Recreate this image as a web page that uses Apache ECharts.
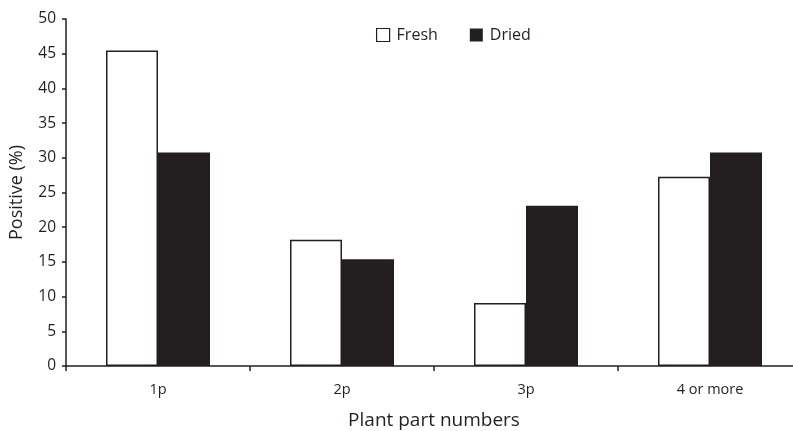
<!DOCTYPE html>
<html><head><meta charset="utf-8">
<script src="https://cdn.jsdelivr.net/npm/echarts@6/dist/echarts.min.js"></script>
<style>html,body{margin:0;padding:0;background:#fff}#c{width:793px;height:431px}</style>
</head><body><div id="c"></div>
<script>
const categories = ['1p', '2p', '3p', '4 or more'];
const fresh = [45.45, 18.18, 9.09, 27.27];
const dried = [30.77, 15.38, 23.08, 30.77];
const yTicks = [0, 5, 10, 15, 20, 25, 30, 35, 40, 45, 50];
const ink = '#231f20';
const font = 'Open Sans';
const chart = echarts.init(document.getElementById('c'));
chart.setOption({
  animation: false,
  textStyle: { fontFamily: font, color: ink },
  legend: {
    top: 22, left: 371, itemGap: 32, itemWidth: 13, itemHeight: 13, icon: 'rect',
    textStyle: { fontSize: 16, color: ink, fontFamily: font, padding: [0, 0, 0, 2] },
    data: [
      { name: 'Fresh', itemStyle: { color: '#fff', borderColor: ink, borderWidth: 1.2 } },
      { name: 'Dried', itemStyle: { color: ink } }
    ]
  },
  grid: { left: 66, right: -9, top: 19, bottom: 65, containLabel: false, outerBoundsMode: 'none' },
  xAxis: {
    type: 'category', data: categories,
    axisLine: { lineStyle: { color: ink, width: 1.5 } },
    axisTick: { show: true, length: 5, lineStyle: { color: ink, width: 1.5 } },
    axisLabel: { fontSize: 14.5, color: ink, margin: 16, fontFamily: font },
    name: 'Plant part numbers', nameLocation: 'middle', nameGap: 45,
    nameTextStyle: { fontSize: 19, color: ink, fontFamily: font }
  },
  yAxis: {
    type: 'value', min: 0, max: 50, interval: 5,
    axisLine: { show: true, lineStyle: { color: ink, width: 1.5 } },
    axisTick: { show: true, length: 4, lineStyle: { color: ink, width: 1.5 } },
    splitLine: { show: false },
    axisLabel: { fontSize: 15.5, color: ink, margin: 10, fontFamily: font,
      formatter: v => yTicks.includes(v) ? String(v) : '' },
    name: 'Positive (%)', nameLocation: 'middle', nameGap: 40, nameRotate: 90,
    nameTextStyle: { fontSize: 18, color: ink, fontFamily: font }
  },
  series: [
    { name: 'Fresh', type: 'bar', data: fresh, barWidth: 52, barGap: '0%',
      itemStyle: { color: '#fff', borderColor: ink, borderWidth: 1.5 } },
    { name: 'Dried', type: 'bar', data: dried, barWidth: 52, barGap: '0%',
      itemStyle: { color: ink } }
  ]
});
</script></body></html>
